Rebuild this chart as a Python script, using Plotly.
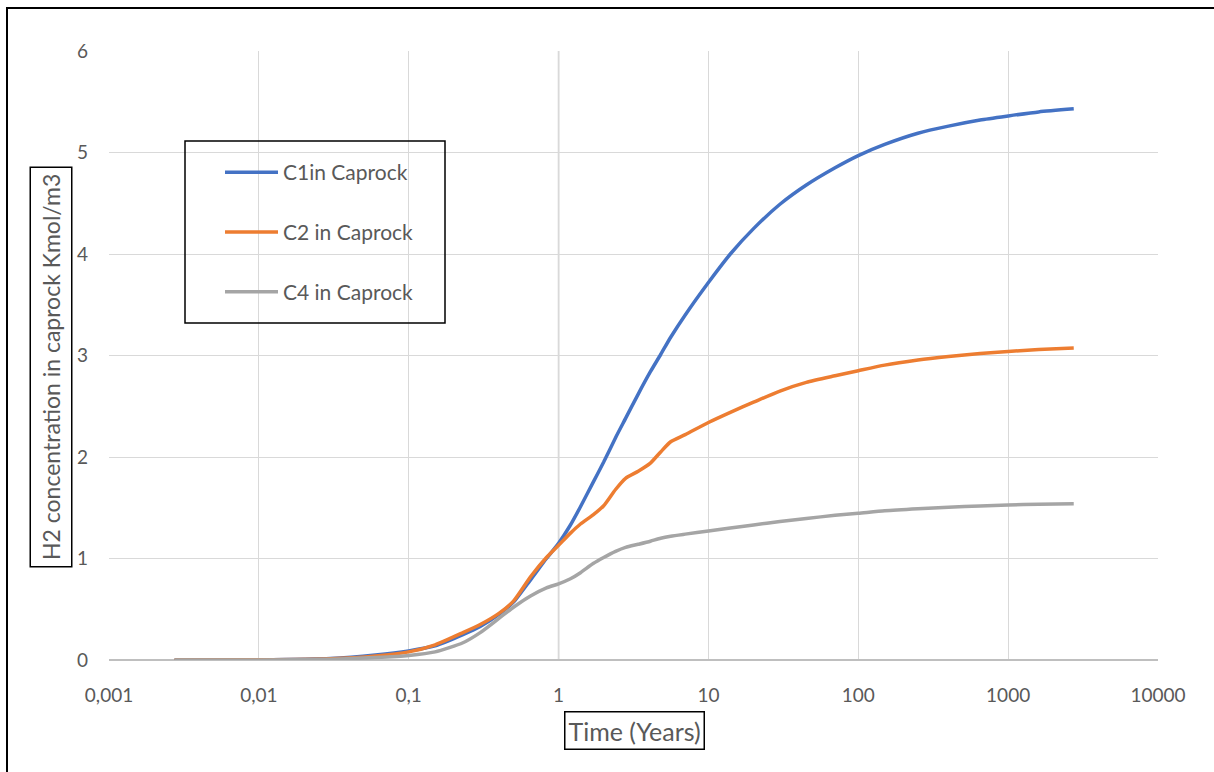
import plotly.graph_objects as go

# ---- data (time in years) ----
time_years = [0.00274, 0.01, 0.03, 0.06, 0.1, 0.15, 0.23, 0.3, 0.4, 0.5, 0.65, 0.83,
              1.0, 1.2, 1.4, 1.7, 2.0, 2.4, 2.8, 3.4, 4.1, 4.8, 5.6, 7.0, 10,
              14, 20, 30, 45, 70, 100, 150, 250, 400, 650, 1000, 1600, 2740]

c1_caprock = [0.0, 0.002, 0.015, 0.05, 0.09, 0.14, 0.25, 0.33, 0.45, 0.57, 0.79, 1.00,
              1.15, 1.33, 1.51, 1.75, 1.95, 2.19, 2.38, 2.62, 2.84, 3.01, 3.18, 3.40, 3.72,
              4.00, 4.25, 4.49, 4.68, 4.85, 4.97, 5.08, 5.19, 5.26, 5.32, 5.36, 5.40, 5.43]

c2_caprock = [0.0, 0.002, 0.012, 0.04, 0.08, 0.15, 0.27, 0.35, 0.46, 0.58, 0.82, 1.01,
              1.13, 1.25, 1.34, 1.43, 1.52, 1.68, 1.79, 1.86, 1.94, 2.05, 2.15, 2.22, 2.34,
              2.44, 2.54, 2.65, 2.735, 2.80, 2.85, 2.905, 2.955, 2.99, 3.02, 3.04, 3.06, 3.075]

c4_caprock = [0.0, 0.001, 0.008, 0.025, 0.045, 0.08, 0.17, 0.27, 0.41, 0.52, 0.63, 0.71,
              0.75, 0.80, 0.86, 0.95, 1.01, 1.07, 1.11, 1.14, 1.17, 1.20, 1.22, 1.24, 1.27,
              1.30, 1.33, 1.365, 1.395, 1.425, 1.445, 1.47, 1.49, 1.505, 1.517, 1.527, 1.535, 1.54]

series_names = ["C1in Caprock", "C2 in Caprock", "C4 in Caprock"]
series_colors = ["#4472C4", "#ED7D31", "#A5A5A5"]

x_tick_vals = [0.001, 0.01, 0.1, 1, 10, 100, 1000, 10000]
x_tick_text = ["0,001", "0,01", "0,1", "1", "10", "100", "1000", "10000"]
y_tick_vals = [0, 1, 2, 3, 4, 5, 6]

x_title = "Time (Years)"
y_title = "H2 concentration in caprock Kmol/m3"

FONT = "Lato, 'Open Sans', sans-serif"
TXT = "#595959"

fig = go.Figure()
for i, (name, ys, col) in enumerate(zip(series_names, [c1_caprock, c2_caprock, c4_caprock], series_colors)):
    fig.add_trace(go.Scatter(
        x=time_years, y=ys, name=name, mode="lines",
        line=dict(color=col, width=3.5, shape="spline", smoothing=0.6),
        legendgroup=f"g{i}",
    ))

L, R, T, B = 109, 56, 51, 112
W, H = 1214, 772
pw, ph = W - L - R, H - T - B

def px_x(p):
    return (p - L) / pw

def px_y(p):
    return 1 - (p - T) / ph

fig.update_layout(
    width=W, height=H,
    margin=dict(l=L, r=R, t=T, b=B, autoexpand=False),
    paper_bgcolor="white", plot_bgcolor="white",
    font=dict(family=FONT, color=TXT, size=19),
    showlegend=True,
    legend=dict(
        x=px_x(220), y=px_y(152), xanchor="left", yanchor="top",
        bgcolor="rgba(0,0,0,0)", borderwidth=0,
        font=dict(family=FONT, size=21, color=TXT),
        tracegroupgap=29.5, itemwidth=53,
    ),
    xaxis=dict(
        type="log", range=[-3, 4],
        tickvals=x_tick_vals, ticktext=x_tick_text,
        showgrid=True, gridcolor="#D9D9D9", gridwidth=1.3,
        zeroline=False, showline=False, ticks="",
        ticklabelstandoff=22,
        tickfont=dict(family=FONT, size=19, color=TXT),
    ),
    yaxis=dict(
        range=[0, 6], tickvals=y_tick_vals,
        showgrid=True, gridcolor="#D9D9D9", gridwidth=1.3,
        zeroline=True, zerolinecolor="#BFBFBF", zerolinewidth=1.5,
        showline=False, ticks="",
        ticklabelstandoff=20,
        tickfont=dict(family=FONT, size=19, color=TXT),
    ),
    shapes=[
        # vertical axis line (crosses at x = 1)
        dict(type="line", xref="paper", yref="paper", x0=3/7, x1=3/7, y0=0, y1=1,
             line=dict(color="#BFBFBF", width=1.5), layer="below"),
        # legend frame
        dict(type="rect", xref="paper", yref="paper",
             x0=px_x(185), x1=px_x(445), y0=px_y(323), y1=px_y(141),
             line=dict(color="black", width=1.5), fillcolor="rgba(0,0,0,0)", layer="above"),
        # outer chart border
        dict(type="rect", xref="paper", yref="paper",
             x0=px_x(7), x1=px_x(1230), y0=px_y(800), y1=px_y(8),
             line=dict(color="black", width=2), fillcolor="rgba(0,0,0,0)", layer="above"),
    ],
    annotations=[
        dict(text=y_title, xref="paper", yref="paper", x=px_x(50.5), y=px_y(367),
             xanchor="center", yanchor="middle", textangle=-90, showarrow=False,
             font=dict(family=FONT, size=23, color=TXT),
             bordercolor="black", borderwidth=1.5, borderpad=6),
        dict(text=x_title, xref="paper", yref="paper", x=px_x(634), y=px_y(730.5),
             xanchor="center", yanchor="middle", showarrow=False,
             font=dict(family=FONT, size=25, color=TXT),
             bordercolor="black", borderwidth=1.5, borderpad=3),
    ],
)

fig.write_html("out.html")
